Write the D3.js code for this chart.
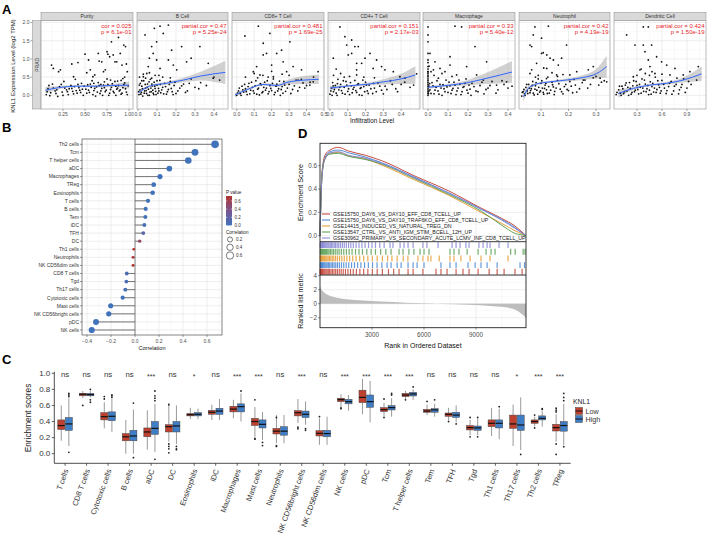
<!DOCTYPE html>
<html lang="en">
<head>
<meta charset="UTF-8">
<title>KNL1 immune infiltration panels</title>
<script src="https://d3js.org/d3.v7.min.js"></script>
<style>
  body { margin: 0; background: #fff; }
  svg { display: block; font-family: "Liberation Sans", Arial, sans-serif; }
</style>
</head>
<body>
<script>
// ---------- panel A : TIMER scatter ----------
const aNames = ["Purity", "B Cell", "CD8+ T Cell", "CD4+ T Cell", "Macrophage", "Neutrophil", "Dendritic Cell"];
const aCor = ["cor = 0.025", "partial.cor = 0.47", "partial.cor = 0.481", "partial.cor = 0.151",
              "partial.cor = 0.33", "partial.cor = 0.42", "partial.cor = 0.424"];
const aP = ["p = 6.1e-01", "p = 5.25e-24", "p = 1.69e-25", "p = 2.17e-03",
            "p = 5.40e-12", "p = 4.19e-19", "p = 1.50e-19"];

const purityPts = [[0.12,0.83],[0.14,0.74],[0.2,0.65],[0.22,0.7],[0.35,0.86],[0.37,0.51],[0.42,0.9],[0.5,1.13],[0.54,0.97],[0.56,0.7],[0.59,0.51],[0.61,0.56],[0.65,1.15],[0.66,0.94],[0.69,0.92],[0.71,0.65],[0.73,0.7],[0.75,1.2],[0.76,1.13],[0.78,1.06],[0.8,1.47],[0.82,1.11],[0.84,0.92],[0.86,0.92],[0.88,1.59],[0.9,1.15],[0.92,0.83],[0.94,1.38],[0.96,1.34],[0.97,0.86],[0.98,0.65],[0.52,0.62],
  [0.06,0.02],[0.08,0.18],[0.11,0.07],[0.13,0.31],[0.16,0.12],[0.19,-0.03],[0.21,0.24],[0.24,0.09],[0.26,0.38],[0.29,0.15],[0.31,0.02],[0.34,0.27],[0.36,0.11],[0.39,0.44],[0.41,0.06],[0.43,0.21],[0.46,0.33],[0.48,0.0],[0.51,0.17],[0.53,0.29],[0.55,0.08],[0.58,0.4],[0.6,0.13],[0.62,-0.02],[0.63,0.23],[0.65,0.35],[0.67,0.05],[0.69,0.19],[0.71,0.28],[0.73,0.1],[0.75,0.45],[0.77,0.0],[0.79,0.16],[0.81,0.32],[0.83,0.07],[0.85,0.25],[0.87,0.39],[0.89,0.12],[0.91,0.03],[0.93,0.21],[0.95,0.34],[0.97,0.09],[0.99,0.26],[0.57,0.22],[0.44,0.14],[0.72,0.37],[0.86,0.17],[0.93,0.46],[0.68,0.3],[0.35,0.19],
  [0.07,0.1],[0.09,0.27],[0.1,-0.01],[0.14,0.2],[0.17,0.05],[0.18,0.15],[0.23,0.3],[0.25,0.0],[0.27,0.2],[0.3,0.1],[0.32,0.18],[0.37,0.04],[0.38,0.24],[0.4,0.13],[0.42,0.3],[0.45,0.08],[0.47,0.17],[0.49,0.25],[0.52,0.06],[0.54,0.14],[0.56,0.31],[0.59,0.02],[0.61,0.19],[0.64,0.09],[0.66,0.27],[0.68,0.12],[0.7,0.0],[0.72,0.21],[0.74,0.14],[0.76,0.3],[0.78,0.06],[0.8,0.22],[0.82,0.11],[0.84,0.38],[0.85,0.0],[0.87,0.2],[0.88,0.27],[0.9,0.15],[0.92,0.06],[0.94,0.29],[0.96,0.18],[0.98,0.02],[0.6,0.33],[0.79,0.42],[0.91,0.41],[0.95,0.5]];
const bCellPts = [[0.037,1.66],[0.072,1.34],[0.08,1.15],[0.086,1.84],[0.098,0.97],[0.046,0.6],[0.054,0.79],[0.06,1.02],[0.116,1.9],[0.133,1.7],[0.16,0.97],[0.177,1.24],[0.186,0.83],[0.204,0.7],[0.23,1.34],[0.256,0.92],[0.28,1.02],[0.326,1.34],[0.37,0.88],[0.396,0.47],[0.43,0.42],[0.116,0.74],[0.028,0.51],[0.072,0.47],[0.16,1.93],[0.098,1.47],
  [0.005,0.02],[0.01,0.15],[0.012,0.33],[0.018,0.08],[0.02,0.25],[0.025,-0.02],[0.03,0.4],[0.035,0.12],[0.04,0.2],[0.045,0.05],[0.05,0.31],[0.055,0.17],[0.06,0.0],[0.065,0.44],[0.07,0.1],[0.075,0.26],[0.08,0.06],[0.085,0.36],[0.09,0.19],[0.095,0.02],[0.1,0.28],[0.11,0.12],[0.115,0.41],[0.12,0.07],[0.13,0.22],[0.14,0.33],[0.15,0.03],[0.16,0.16],[0.17,0.38],[0.18,0.1],[0.19,0.27],[0.2,0.05],[0.22,0.2],[0.24,0.31],[0.26,0.12],[0.28,0.45],[0.3,0.22],[0.33,0.35],[0.36,0.27],[0.4,0.5],[0.008,0.5],[0.028,0.58],[0.06,0.62],[0.09,0.55],[0.13,0.5],
  [0.003,0.1],[0.007,0.28],[0.015,0.03],[0.02,0.4],[0.023,0.18],[0.033,0.06],[0.038,0.3],[0.043,0.13],[0.048,0.22],[0.052,0.0],[0.058,0.37],[0.063,0.09],[0.068,0.2],[0.073,0.31],[0.078,0.14],[0.083,0.02],[0.088,0.25],[0.093,0.11],[0.1,0.4],[0.105,0.06],[0.108,0.19],[0.118,0.3],[0.125,0.15],[0.135,0.04],[0.145,0.24],[0.155,0.1],[0.165,0.3],[0.175,0.19],[0.185,0.02],[0.195,0.36],[0.21,0.12],[0.23,0.26],[0.25,0.08],[0.27,0.33],[0.32,0.18],[0.04,0.47],[0.11,0.55],[0.17,0.48]];
const cd8Pts = [[0.047,1.63],[0.124,1.9],[0.152,1.11],[0.171,1.15],[0.19,1.7],[0.2,0.83],[0.114,0.79],[0.133,0.56],[0.229,1.15],[0.266,0.92],[0.286,0.65],[0.305,1.47],[0.323,0.79],[0.352,0.42],[0.371,0.7],[0.419,0.28],[0.438,0.37],[0.152,1.43],[0.095,0.65],[0.21,0.51],[0.257,1.24],[0.466,0.65],
  [0.0,0.0],[0.01,0.12],[0.02,0.05],[0.03,0.25],[0.04,0.09],[0.05,0.18],[0.06,0.02],[0.07,0.33],[0.08,0.14],[0.09,0.22],[0.1,0.06],[0.11,0.4],[0.12,0.17],[0.13,0.01],[0.14,0.29],[0.15,0.1],[0.16,0.36],[0.17,0.2],[0.18,0.04],[0.19,0.27],[0.2,0.13],[0.21,0.45],[0.22,0.08],[0.23,0.31],[0.24,0.18],[0.25,0.0],[0.26,0.24],[0.27,0.38],[0.28,0.11],[0.3,0.3],[0.32,0.16],[0.34,0.42],[0.36,0.22],[0.38,0.34],[0.4,0.27],[0.44,0.5],[0.05,0.5],[0.1,0.6],[0.15,0.55],[0.2,0.66],[0.26,0.58],
  [0.005,0.06],[0.015,0.2],[0.025,0.0],[0.035,0.15],[0.045,0.3],[0.055,0.1],[0.065,0.24],[0.075,0.04],[0.085,0.36],[0.095,0.12],[0.105,0.26],[0.115,0.03],[0.125,0.2],[0.135,0.32],[0.145,0.07],[0.155,0.22],[0.165,0.14],[0.175,0.4],[0.185,0.1],[0.195,0.19],[0.205,0.33],[0.215,0.02],[0.225,0.25],[0.235,0.12],[0.245,0.39],[0.255,0.16],[0.265,0.06],[0.275,0.28],[0.29,0.2],[0.31,0.05],[0.33,0.26],[0.35,0.12],[0.37,0.44],[0.39,0.2],[0.42,0.36],[0.12,0.48],[0.18,0.5],[0.3,0.55]];
const cd4Pts = [[0.122,1.15],[0.159,1.34],[0.178,0.88],[0.225,1.15],[0.262,0.97],[0.29,0.79],[0.309,0.7],[0.356,0.65],[0.393,0.51],[0.421,0.47],[0.487,0.59],[0.243,0.74],[0.15,0.7],[0.197,1.02],[0.056,1.88],[0.084,1.61],[0.094,1.38],[0.103,1.11],[0.122,1.52],[0.14,1.34],[0.15,0.88],[0.019,1.02],
  [0.0,0.03],[0.01,0.2],[0.015,0.35],[0.02,0.1],[0.03,0.27],[0.04,0.0],[0.045,0.44],[0.05,0.15],[0.06,0.3],[0.07,0.06],[0.08,0.22],[0.09,0.38],[0.1,0.11],[0.11,0.02],[0.12,0.26],[0.13,0.17],[0.14,0.41],[0.15,0.08],[0.16,0.32],[0.17,0.19],[0.18,0.0],[0.19,0.24],[0.2,0.36],[0.21,0.12],[0.22,0.28],[0.24,0.05],[0.25,0.2],[0.27,0.34],[0.29,0.14],[0.31,0.25],[0.34,0.4],[0.37,0.18],[0.4,0.3],[0.45,0.22],[0.02,0.55],[0.06,0.6],[0.11,0.52],[0.035,0.72],[0.19,0.5],
  [0.005,0.12],[0.012,0.0],[0.018,0.26],[0.025,0.16],[0.035,0.06],[0.042,0.32],[0.055,0.22],[0.065,0.13],[0.075,0.4],[0.085,0.03],[0.095,0.28],[0.105,0.18],[0.115,0.35],[0.125,0.07],[0.135,0.22],[0.145,0.13],[0.155,0.3],[0.165,0.01],[0.175,0.21],[0.185,0.42],[0.195,0.1],[0.205,0.28],[0.215,0.05],[0.23,0.18],[0.245,0.33],[0.26,0.1],[0.28,0.25],[0.3,0.04],[0.32,0.16],[0.35,0.3],[0.38,0.1],[0.42,0.36],[0.47,0.28],[0.08,0.5],[0.15,0.56],[0.25,0.48]];
const macroPts = [[0.0,1.88],[0.0,1.66],[0.0,1.47],[0.0,1.15],[0.0,0.97],[0.0,0.79],[0.0,0.65],[0.0,0.51],[0.135,1.9],[0.168,1.88],[0.235,1.34],[0.293,0.92],[0.11,0.83],[0.06,0.74],[0.035,0.92],[0.085,0.65],[0.143,0.56],[0.193,0.79],[0.243,0.56],[0.277,0.42],[0.343,0.28],[0.393,0.37],[0.01,1.15],[0.027,0.7],[0.052,0.47],[0.11,1.06],
  [0.0,0.0],[0.0,0.1],[0.0,0.2],[0.0,0.3],[0.0,0.4],[0.002,0.05],[0.004,0.25],[0.01,0.15],[0.02,0.35],[0.03,0.04],[0.04,0.22],[0.05,0.12],[0.06,0.3],[0.07,0.0],[0.08,0.18],[0.09,0.42],[0.1,0.08],[0.11,0.26],[0.12,0.14],[0.13,0.36],[0.14,0.02],[0.15,0.2],[0.16,0.31],[0.17,0.1],[0.18,0.24],[0.19,0.45],[0.2,0.06],[0.21,0.17],[0.22,0.33],[0.24,0.12],[0.26,0.27],[0.28,0.04],[0.3,0.2],[0.32,0.38],[0.35,0.15],[0.38,0.3],[0.42,0.25],[0.0,0.55],[0.0,0.65],[0.005,0.8],[0.03,0.55],[0.07,0.6],[0.12,0.52],
  [0.0,0.05],[0.0,0.15],[0.0,0.25],[0.0,0.35],[0.0,0.45],[0.005,0.12],[0.008,0.32],[0.015,0.05],[0.025,0.26],[0.035,0.14],[0.045,0.4],[0.055,0.03],[0.065,0.2],[0.075,0.29],[0.085,0.1],[0.095,0.23],[0.105,0.36],[0.115,0.05],[0.125,0.19],[0.135,0.28],[0.145,0.12],[0.155,0.42],[0.165,0.02],[0.175,0.22],[0.185,0.33],[0.195,0.14],[0.205,0.28],[0.215,0.0],[0.23,0.24],[0.25,0.1],[0.27,0.36],[0.29,0.16],[0.31,0.27],[0.34,0.06],[0.37,0.4],[0.4,0.2],[0.0,0.6],[0.0,0.72],[0.0,0.9],[0.015,0.65]];
const neutroPts = [[0.078,1.88],[0.127,1.9],[0.072,1.66],[0.102,1.57],[0.06,1.38],[0.066,1.34],[0.102,1.15],[0.108,1.17],[0.121,1.11],[0.133,1.02],[0.145,0.97],[0.163,0.83],[0.175,1.02],[0.193,1.38],[0.23,0.65],[0.254,0.42],[0.272,0.7],[0.29,0.79],[0.315,0.47],[0.339,0.37],[0.084,0.88],[0.121,0.74],[0.157,0.56],[0.205,0.56],[0.066,0.7],
  [0.03,-0.02],[0.035,0.1],[0.04,0.04],[0.045,0.22],[0.05,0.12],[0.055,0.3],[0.06,0.07],[0.065,0.18],[0.07,0.38],[0.075,0.01],[0.08,0.26],[0.085,0.14],[0.09,0.45],[0.095,0.09],[0.1,0.33],[0.105,0.2],[0.11,0.03],[0.115,0.28],[0.12,0.15],[0.125,0.5],[0.13,0.06],[0.14,0.36],[0.145,0.23],[0.15,0.11],[0.16,0.41],[0.17,0.17],[0.18,0.04],[0.19,0.3],[0.2,0.13],[0.21,0.25],[0.22,0.44],[0.23,0.09],[0.25,0.35],[0.27,0.2],[0.29,0.48],[0.31,0.28],[0.33,0.4],[0.06,0.6],[0.09,0.55],[0.14,0.62],[0.11,0.75],[0.18,0.57],
  [0.032,0.08],[0.038,0.16],[0.042,0.0],[0.048,0.3],[0.052,0.05],[0.058,0.2],[0.062,0.13],[0.068,0.27],[0.072,0.06],[0.078,0.17],[0.082,0.35],[0.088,0.03],[0.092,0.22],[0.098,0.12],[0.103,0.4],[0.108,0.08],[0.113,0.19],[0.118,0.33],[0.123,0.05],[0.128,0.24],[0.135,0.14],[0.142,0.29],[0.148,0.02],[0.155,0.2],[0.165,0.32],[0.175,0.1],[0.185,0.24],[0.195,0.16],[0.205,0.38],[0.215,0.07],[0.225,0.28],[0.24,0.18],[0.26,0.42],[0.28,0.3],[0.3,0.52],[0.32,0.36],[0.08,0.5],[0.12,0.46],[0.16,0.52]];
const dcPts = [[0.176,1.66],[0.376,1.88],[0.436,1.88],[0.276,1.38],[0.376,1.38],[0.396,1.2],[0.476,1.38],[0.536,1.06],[0.436,0.97],[0.456,0.79],[0.596,0.92],[0.657,0.83],[0.756,0.74],[0.856,0.56],[0.936,0.65],[1.036,0.79],[0.336,0.7],[0.516,0.6],[0.256,0.51],[0.696,0.56],[1.017,0.42],
  [0.05,0.02],[0.08,0.15],[0.1,0.06],[0.12,0.25],[0.15,0.1],[0.17,0.34],[0.2,0.0],[0.22,0.19],[0.24,0.08],[0.26,0.4],[0.28,0.14],[0.3,0.27],[0.32,0.04],[0.34,0.22],[0.36,0.45],[0.38,0.11],[0.4,0.31],[0.42,0.18],[0.44,0.02],[0.46,0.37],[0.48,0.24],[0.5,0.09],[0.52,0.5],[0.54,0.16],[0.56,0.29],[0.58,0.06],[0.6,0.41],[0.63,0.2],[0.66,0.13],[0.69,0.33],[0.72,0.03],[0.75,0.25],[0.78,0.47],[0.81,0.15],[0.84,0.3],[0.88,0.08],[0.92,0.38],[0.3,0.55],[0.4,0.6],[0.48,0.65],[0.35,0.72],[0.6,0.58],
  [0.06,0.08],[0.09,0.25],[0.11,0.0],[0.13,0.18],[0.14,0.05],[0.16,0.28],[0.18,0.12],[0.19,0.22],[0.21,0.35],[0.23,0.03],[0.25,0.26],[0.27,0.1],[0.29,0.38],[0.31,0.16],[0.33,0.3],[0.35,0.06],[0.37,0.2],[0.39,0.42],[0.41,0.1],[0.43,0.27],[0.45,0.14],[0.47,0.03],[0.49,0.33],[0.51,0.2],[0.53,0.08],[0.55,0.4],[0.57,0.22],[0.59,0.12],[0.62,0.3],[0.65,0.05],[0.68,0.24],[0.71,0.38],[0.74,0.12],[0.77,0.3],[0.8,0.04],[0.83,0.22],[0.86,0.45],[0.9,0.2],[0.95,0.3],[0.45,0.55]];

// loess fit and confidence half-width
const aFitX = [[0.05,0.2,0.4,0.6,0.8,1.0],[0.005,0.06,0.15,0.24,0.33,0.46],[-0.01,0.076,0.15,0.23,0.3,0.47],
               [0.0,0.07,0.13,0.22,0.3,0.4,0.48],[0.0,0.11,0.19,0.28,0.42],
               [0.036,0.054,0.084,0.133,0.193,0.254,0.303,0.339],[0.076,0.256,0.456,0.657,0.856,1.077]];
const aFit = [[0.14,0.21,0.25,0.25,0.27,0.28],[0.08,0.25,0.33,0.42,0.53,0.63],[0.01,0.19,0.3,0.27,0.37,0.44],
              [0.2,0.24,0.27,0.31,0.37,0.45,0.56],[0.22,0.28,0.34,0.45,0.64],
              [-0.04,0.19,0.31,0.37,0.42,0.49,0.6,0.79],[0.05,0.19,0.28,0.33,0.42,0.59]];
const aSe = [[0.09,0.04,0.03,0.03,0.04,0.09],[0.05,0.03,0.04,0.06,0.12,0.32],[0.06,0.03,0.03,0.04,0.07,0.13],
             [0.06,0.03,0.03,0.04,0.07,0.14,0.24],[0.04,0.04,0.07,0.14,0.3],
             [0.15,0.06,0.03,0.03,0.04,0.07,0.14,0.3],[0.12,0.04,0.03,0.04,0.07,0.2]];

// ---------- panel B : lollipop ----------
const bCats = ["Th2 cells","Tcm","T helper cells","aDC","Macrophages","TReg","Eosinophils","T cells","B cells","Tem","iDC","TFH","DC",
               "Th1 cells","Neutrophils","NK CD56dim cells","CD8 T cells","Tgd","Th17 cells","Cytotoxic cells","Mast cells","NK CD56bright cells","pDC","NK cells"];
const bCor = [0.667,0.50,0.444,0.286,0.208,0.156,0.147,0.108,0.089,0.086,0.078,0.069,0.039,
              -0.011,-0.017,-0.017,-0.069,-0.072,-0.081,-0.103,-0.203,-0.219,-0.325,-0.361];
const bPval = [0,0,0,0,0,0,0,0,0,0.01,0.04,0.16,0.52,0.75,0.7,0.72,0.08,0.06,0.03,0.01,0,0,0,0];

// ---------- panel C : boxplots ----------
const cCats = ["T cells","CD8 T cells","Cytotoxic cells","B cells","aDC","DC","Eosinophils","iDC","Macrophages","Mast cells","Neutrophils",
               "NK CD56bright cells","NK CD56dim cells","NK cells","pDC","Tcm","T helper cells","Tem","TFH","Tgd","Th1 cells","Th17 cells","Th2 cells","TReg"];
const cSig = ["ns","ns","ns","ns","***","ns","*","ns","***","***","ns","***","ns","***","***","***","***","ns","ns","ns","ns","*","***","***"];
// [lower whisker, q1, median, q3, upper whisker]
const cLow = [[0.16,0.30,0.35,0.42,0.60],[0.69,0.72,0.74,0.75,0.78],[0.315,0.42,0.46,0.51,0.64],[0.0,0.16,0.21,0.25,0.42],
  [0.05,0.21,0.27,0.32,0.54],[0.15,0.27,0.336,0.36,0.63],[0.43,0.47,0.485,0.50,0.57],[0.42,0.49,0.515,0.54,0.61],
  [0.44,0.52,0.555,0.59,0.67],[0.21,0.35,0.40,0.44,0.58],[0.13,0.245,0.28,0.315,0.48],[0.38,0.47,0.51,0.535,0.68],
  [0.11,0.22,0.253,0.286,0.44],[0.58,0.647,0.672,0.69,0.74],[0.49,0.635,0.70,0.79,0.93],[0.47,0.523,0.548,0.573,0.63],
  [0.68,0.71,0.73,0.75,0.78],[0.48,0.515,0.53,0.552,0.61],[0.42,0.465,0.49,0.506,0.57],[0.23,0.295,0.324,0.35,0.42],
  [0.22,0.336,0.378,0.42,0.57],[0.095,0.315,0.37,0.48,0.61],[0.34,0.378,0.40,0.42,0.46],[0.15,0.282,0.324,0.365,0.49]];
const cLowOut = [[],[0.60],[0.68,0.71],[],[],[0.61,0.12,0.09,0.06,0.01],[],[],[],[0.67,0.19,0.18],[0.10,0.09,0.45],[0.33,0.31],
  [0.46],[0.56,0.57],[],[0.68,0.45],[0.67],[0.65],[0.40],[0.45,0.21],[],[],[0.48,0.32],[0.52,0.54,0.565,0.12,-0.01]];
const cHigh = [[0.095,0.29,0.37,0.45,0.69],[0.70,0.72,0.735,0.75,0.78],[0.27,0.41,0.465,0.52,0.68],[0.0,0.16,0.22,0.29,0.55],
  [0.02,0.24,0.315,0.40,0.62],[0.12,0.27,0.345,0.40,0.60],[0.43,0.47,0.49,0.51,0.56],[0.42,0.49,0.53,0.565,0.68],
  [0.40,0.52,0.585,0.62,0.75],[0.17,0.32,0.365,0.42,0.52],[0.13,0.23,0.28,0.335,0.48],[0.36,0.45,0.49,0.53,0.65],
  [0.11,0.21,0.25,0.29,0.46],[0.535,0.62,0.647,0.676,0.73],[0.39,0.577,0.647,0.73,0.905],[0.46,0.544,0.573,0.598,0.69],
  [0.67,0.718,0.743,0.763,0.80],[0.46,0.515,0.544,0.56,0.62],[0.39,0.452,0.48,0.515,0.60],[0.23,0.29,0.32,0.344,0.43],
  [0.18,0.32,0.378,0.42,0.56],[0.046,0.29,0.357,0.48,0.70],[0.336,0.42,0.44,0.47,0.53],[0.11,0.28,0.35,0.40,0.62]];
const cHighOut = [[0.71,0.73,0.75,0.017],[0.80,0.64,0.67],[0.70,0.72,0.73],[0.63,-0.05],[0.66,0.69,0.72,0.78,-0.07],[0.09,0.06,0.05],
  [],[],[0.78],[0.14,0.10],[],[0.31,0.29],[],[],[],[0.73,0.75],[0.83],[0.67],[0.37],[0.45,0.21],[0.585],[-0.01],[0.56,0.55],[0.66,0.70,0.75,0.087]];

// ---------- panel D : GSEA ----------
const gsNames = ["GSE15750_DAY6_VS_DAY10_EFF_CD8_TCELL_UP","GSE15750_DAY6_VS_DAY10_TRAF6KO_EFF_CD8_TCELL_UP",
                 "GSE14415_INDUCED_VS_NATURAL_TREG_DN","GSE13547_CTRL_VS_ANTI_IGM_STIM_BCELL_12H_UP",
                 "GSE30962_PRIMARY_VS_SECONDARY_ACUTE_LCMV_INF_CD8_TCELL_UP"];
const gsColors = ["#C0392B","#3F7FD0","#E39325","#4E9A47","#7F80D2"];
const esRank = [0,50,120,290,580,1060,1640,2600,3560,5480,7400,9330,10480,11250,11830,11885];
const esRed    = [0,0.30,0.55,0.69,0.734,0.757,0.726,0.69,0.643,0.511,0.386,0.234,0.149,0.083,0.008,0];
const esBlue   = [0,0.28,0.53,0.67,0.72,0.734,0.711,0.675,0.626,0.50,0.369,0.225,0.14,0.07,0.005,0];
const esOrange = [0,0.27,0.52,0.66,0.705,0.715,0.685,0.66,0.606,0.477,0.349,0.197,0.106,0.043,0.004,0];
const esGreen  = [0,0.28,0.53,0.66,0.70,0.706,0.68,0.654,0.614,0.488,0.357,0.208,0.091,0.02,0.002,0];
const esPurple = [0,0.28,0.52,0.66,0.71,0.72,0.69,0.665,0.62,0.494,0.369,0.226,0.134,0.063,0.006,0];
const hitsRed = [5,30,60,95,135,180,230,285,345,410,480,555,635,720,810,905,1005,1110,1220,1340,1470,1610,1760,1920,2100,2300,2520,2760,3020,3300,3600,3950,4250,4560,5080,5370,5940,6690,6980,7330,7850,8250,8600,9120,9760,10220,10620,11250,11660];
const hitsBlue = [10,35,65,100,140,185,235,290,350,415,485,560,640,725,815,910,1010,1120,1240,1370,1510,1660,1820,1990,2170,2360,2570,2790,3030,3290,3570,3870,4100,4450,4680,5080,5370,5600,6000,6980,7500,7850,8540,8950,9290,9640,10220,11540,11800];
const hitsOrange = [15,45,85,125,170,220,275,335,400,470,545,625,710,800,900,1010,1130,1260,1400,1550,1710,1890,2080,2290,2520,2760,3020,3300,3600,3900,4150,4450,4800,5070,5650,5940,6230,6400,6880,7500,7730,8130,8660,9290,9810,10850];
const hitsGreen = [20,60,100,140,200,260,320,380,450,520,600,690,780,880,990,1100,1230,1370,1520,1680,1850,2050,2250,2450,2700,2950,3200,3500,3800,4100,4560,4790,5130,5420,5770,6000,6290,7500,7730,8020,8490,9120,9580,9870,10100,11000,11260,11720,11830];
const hitsPurple = [10,40,70,110,150,190,240,290,340,400,460,520,590,660,740,820,900,990,1080,1180,1290,1400,1520,1650,1780,1920,2080,2250,2420,2600,2800,3000,3200,3450,3700,4040,4210,4620,4850,5080,5370,5940,6170,6810,7620,7850,8080,8420,8600,9170,9410,9640,9810,10330,10850];
const rlRank = [0,60,150,300,500,900,1500,2500,3500,5000,6000,7000,8500,10000,10800,11300,11600,11885];
const rlVal = [2.5,2.1,1.8,1.5,1.2,0.9,0.65,0.45,0.3,0.15,0.05,-0.05,-0.15,-0.35,-0.55,-0.9,-1.4,-2.0];

// ====================================================================
const svg = d3.select("body").append("svg").attr("width", 708).attr("height", 535);

function txt(g, x, y, s, size, o = {}) {
  const t = g.append("text").attr("x", x).attr("y", y).text(s)
    .attr("font-size", size).attr("fill", o.fill || "#222");
  if (o.anchor) t.attr("text-anchor", o.anchor);
  if (o.weight) t.attr("font-weight", o.weight);
  if (o.rotate != null) t.attr("transform", `rotate(${o.rotate},${x},${y})`);
  return t;
}
function hline(g, x1, x2, y, c, w) {
  g.append("line").attr("x1", x1).attr("x2", x2).attr("y1", y).attr("y2", y).attr("stroke", c).attr("stroke-width", w);
}
function vline(g, x, y1, y2, c, w) {
  g.append("line").attr("x1", x).attr("x2", x).attr("y1", y1).attr("y2", y2).attr("stroke", c).attr("stroke-width", w);
}

// panel letters
txt(svg, 2, 13.5, "A", 13, {weight: "bold", fill: "#000"});
txt(svg, 2, 132, "B", 13, {weight: "bold", fill: "#000"});
txt(svg, 2, 364, "C", 13, {weight: "bold", fill: "#000"});
txt(svg, 298, 138, "D", 13, {weight: "bold", fill: "#000"});

// ---------------- A ----------------
(function () {
  const top = 20.7, bot = 109, stripTop = 12.3;
  const y = d3.scaleLinear().domain([-0.376, 2.05]).range([bot, top]);
  const pts = [purityPts, bCellPts, cd8Pts, cd4Pts, macroPts, neutroPts, dcPts];
  const layout = [
    {x0: 41, x1: 133, dom: [0, 1.045], step: 0.25, ticks: [0.25, 0.5, 0.75, 1], fmt: ".2f"},
    {x0: 137, x1: 228, dom: [-0.0053, 0.474], step: 0.1, ticks: [0, 0.1, 0.2, 0.3, 0.4], fmt: ".1f"},
    {x0: 232, x1: 324, dom: [-0.027, 0.5], step: 0.1, ticks: [0, 0.1, 0.2, 0.3, 0.4, 0.5], fmt: ".1f"},
    {x0: 328, x1: 420, dom: [-0.011, 0.506], step: 0.1, ticks: [0, 0.1, 0.2, 0.3, 0.4], fmt: ".1f"},
    {x0: 423, x1: 515, dom: [-0.025, 0.435], step: 0.1, ticks: [0, 0.1, 0.2, 0.3, 0.4], fmt: ".1f"},
    {x0: 519, x1: 610, dom: [0.02, 0.351], step: 0.1, ticks: [0.1, 0.2, 0.3], fmt: ".1f"},
    {x0: 614, x1: 706, dom: [0.024, 1.129], step: 0.3, ticks: [0.3, 0.6, 0.9], fmt: ".1f"}
  ];
  const g0 = svg.append("g");
  // left strip + y axis
  g0.append("rect").attr("x", 32.5).attr("y", top).attr("width", 8.5).attr("height", bot - top)
    .attr("fill", "#D9D9D9").attr("stroke", "#8c8c8c").attr("stroke-width", 0.5);
  txt(g0, 38.6, (top + bot) / 2, "PRAD", 5, {anchor: "middle", rotate: -90, fill: "#333"});
  [0, 0.5, 1, 1.5, 2].forEach(v => {
    hline(g0, 30.3, 32.3, y(v), "#555", 0.5);
    txt(g0, 29.5, y(v) + 1.8, d3.format(".1f")(v), 5, {anchor: "end", fill: "#4d4d4d"});
  });
  txt(g0, 14.5, 66, "KNL1 Expression Level (log2 TPM)", 6, {anchor: "middle", rotate: -90, fill: "#111"});
  txt(g0, 372, 122.5, "Infiltration Level", 6.3, {anchor: "middle", fill: "#111"});

  aNames.forEach((name, i) => {
    const L = layout[i];
    const x = d3.scaleLinear().domain(L.dom).range([L.x0, L.x1]);
    const g = svg.append("g");
    const cid = "clipA" + i;
    g.append("clipPath").attr("id", cid).append("rect")
      .attr("x", L.x0).attr("y", top).attr("width", L.x1 - L.x0).attr("height", bot - top);
    g.append("rect").attr("x", L.x0).attr("y", top).attr("width", L.x1 - L.x0).attr("height", bot - top).attr("fill", "#fff");
    const half = L.step / 2;
    for (let v = Math.ceil(L.dom[0] / half - 1e-9) * half; v <= L.dom[1] + 1e-9; v += half) {
      const major = Math.abs(v / L.step - Math.round(v / L.step)) < 1e-6;
      vline(g, x(v), top, bot, major ? "#E2E2E2" : "#F0F0F0", major ? 0.6 : 0.4);
    }
    [-0.25, 0, 0.25, 0.5, 0.75, 1, 1.25, 1.5, 1.75, 2].forEach(v => {
      const major = Math.abs(v * 2 - Math.round(v * 2)) < 1e-6;
      hline(g, L.x0, L.x1, y(v), major ? "#E2E2E2" : "#F0F0F0", major ? 0.6 : 0.4);
    });
    const inner = g.append("g").attr("clip-path", `url(#${cid})`);
    const fit = aFitX[i].map((fx, k) => ({x: fx, f: aFit[i][k], s: aSe[i][k]}));
    inner.append("path").datum(fit)
      .attr("d", d3.area().x(d => x(d.x)).y0(d => y(d.f - d.s)).y1(d => y(d.f + d.s)).curve(d3.curveMonotoneX))
      .attr("fill", "#999").attr("fill-opacity", 0.45);
    inner.selectAll("circle").data(pts[i]).join("circle")
      .attr("cx", d => x(d[0])).attr("cy", d => y(d[1])).attr("r", 0.9).attr("fill", "#111");
    inner.append("path").datum(fit)
      .attr("d", d3.line().x(d => x(d.x)).y(d => y(d.f)).curve(d3.curveMonotoneX))
      .attr("fill", "none").attr("stroke", "#3366FF").attr("stroke-width", 1);
    g.append("rect").attr("x", L.x0).attr("y", top).attr("width", L.x1 - L.x0).attr("height", bot - top)
      .attr("fill", "none").attr("stroke", "#8c8c8c").attr("stroke-width", 0.6);
    // strip
    g.append("rect").attr("x", L.x0).attr("y", stripTop).attr("width", L.x1 - L.x0).attr("height", top - stripTop)
      .attr("fill", "#D9D9D9").attr("stroke", "#8c8c8c").attr("stroke-width", 0.5);
    txt(g, (L.x0 + L.x1) / 2, 18.4, name, 5, {anchor: "middle", fill: "#333"});
    // annotation
    txt(g, L.x1 - 1.5, 27.5, aCor[i], 6, {anchor: "end", fill: "#E8262B"});
    txt(g, L.x1 - 1.5, 34, aP[i], 6, {anchor: "end", fill: "#E8262B"});
    // x ticks
    L.ticks.forEach(v => {
      vline(g, x(v), bot, bot + 2, "#555", 0.5);
      txt(g, x(v), bot + 7, d3.format(L.fmt)(v), 5, {anchor: "middle", fill: "#4d4d4d"});
    });
  });
})();

// ---------------- B ----------------
(function () {
  const g = svg.append("g");
  const x0 = 82, x1 = 222, top = 139, bot = 335;
  const x = d3.scaleLinear().domain([-0.442, 0.725]).range([x0, x1]);
  const y = d3.scalePoint().domain(bCats).range([144.3, 330]);
  const col = d3.scaleLinear().domain([0, 0.36, 0.72]).range(["#4173BB", "#7A5591", "#B2332E"]).clamp(true);
  const r = d3.scaleSqrt().domain([0, 0.7]).range([1.0, 3.9]);
  g.append("rect").attr("x", x0).attr("y", top).attr("width", x1 - x0).attr("height", bot - top).attr("fill", "#fff");
  d3.range(-0.4, 0.71, 0.1).forEach(v => {
    const major = Math.abs(v * 5 - Math.round(v * 5)) < 1e-6;
    vline(g, x(v), top, bot, major ? "#E2E2E2" : "#F0F0F0", major ? 0.6 : 0.4);
  });
  bCats.forEach(c => hline(g, x0, x1, y(c), "#E2E2E2", 0.6));
  vline(g, x(0), top, bot, "#555", 0.7);
  bCats.forEach((c, i) => {
    hline(g, x(0), x(bCor[i]), y(c), "#555", 0.8);
  });
  g.selectAll("circle.dot").data(bCats).join("circle").attr("class", "dot")
    .attr("cx", (c, i) => x(bCor[i])).attr("cy", c => y(c))
    .attr("r", (c, i) => r(Math.abs(bCor[i]))).attr("fill", (c, i) => col(bPval[i]));
  g.append("rect").attr("x", x0).attr("y", top).attr("width", x1 - x0).attr("height", bot - top)
    .attr("fill", "none").attr("stroke", "#333").attr("stroke-width", 0.6);
  bCats.forEach(c => {
    hline(g, x0 - 2, x0, y(c), "#333", 0.5);
    txt(g, x0 - 3, y(c) + 1.8, c, 5, {anchor: "end", fill: "#333"});
  });
  [-0.4, -0.2, 0, 0.2, 0.4, 0.6].forEach(v => {
    vline(g, x(v), bot, bot + 2, "#333", 0.5);
    txt(g, x(v), bot + 7.5, d3.format(".1f")(v).replace("-", "\u2212"), 5, {anchor: "middle", fill: "#4d4d4d"});
  });
  txt(g, (x0 + x1) / 2, 350, "Correlation", 5.5, {anchor: "middle", fill: "#111"});

  // legends
  txt(g, 226, 193.5, "P value", 4.6, {fill: "#222"});
  const grad = svg.append("defs").append("linearGradient").attr("id", "pgrad")
    .attr("x1", 0).attr("x2", 0).attr("y1", 1).attr("y2", 0);
  [0, 0.5, 1].forEach(t => grad.append("stop").attr("offset", t).attr("stop-color", col(t * 0.72)));
  const p = d3.scaleLinear().domain([0, 0.72]).range([225.5, 196]);
  g.append("rect").attr("x", 226).attr("y", 196).attr("width", 6).attr("height", 29.5).attr("fill", "url(#pgrad)");
  [0, 0.2, 0.4, 0.6].forEach(v => {
    hline(g, 226, 227.3, p(v), "#fff", 0.5);
    hline(g, 230.7, 232, p(v), "#fff", 0.5);
    txt(g, 234.5, p(v) + 1.6, d3.format(".1f")(v), 4.5, {fill: "#333"});
  });
  txt(g, 226, 234, "Correlation", 4.6, {fill: "#222"});
  [[0.2, 239.5], [0.4, 247.3], [0.6, 255.5]].forEach(([v, cy]) => {
    g.append("circle").attr("cx", 230).attr("cy", cy).attr("r", r(v))
      .attr("fill", "none").attr("stroke", "#222").attr("stroke-width", 0.6);
    txt(g, 236, cy + 1.6, d3.format(".1f")(v), 4.5, {fill: "#333"});
  });
})();

// ---------------- D ----------------
(function () {
  const g = svg.append("g");
  const x0 = 320, x1 = 526, esTop = 143.3, esBot = 241.7, hitBot = 275, rlBot = 327.7;
  const x = d3.scaleLinear().domain([0, 11885]).range([x0, x1]);
  const yEs = d3.scaleLinear().domain([-0.051, 0.792]).range([esBot, esTop]);
  const yRl = d3.scaleLinear().domain([-3.43, 4.1]).range([rlBot, hitBot]);
  g.append("rect").attr("x", x0).attr("y", esTop).attr("width", x1 - x0).attr("height", rlBot - esTop).attr("fill", "#fff");
  d3.range(1500, 11885, 1500).forEach(v => {
    const major = v % 3000 === 0;
    vline(g, x(v), esTop, esBot, major ? "#E2E2E2" : "#F0F0F0", major ? 0.6 : 0.4);
    vline(g, x(v), hitBot, rlBot, major ? "#E2E2E2" : "#F0F0F0", major ? 0.6 : 0.4);
  });
  [0, 0.1, 0.2, 0.3, 0.4, 0.5, 0.6, 0.7].forEach(v => {
    const major = Math.abs(v * 5 - Math.round(v * 5)) < 1e-6;
    hline(g, x0, x1, yEs(v), major ? "#E2E2E2" : "#F0F0F0", major ? 0.6 : 0.4);
  });
  [-3, -2, -1, 0, 1, 2, 3, 4].forEach(v => {
    const major = v % 2 === 0;
    hline(g, x0, x1, yRl(v), major ? "#E2E2E2" : "#F0F0F0", major ? 0.6 : 0.4);
  });
  // ranked list metric
  const rl = rlRank.map((rk, i) => ({r: rk, v: rlVal[i]}));
  g.append("path").datum(rl)
    .attr("d", d3.area().x(d => x(d.r)).y0(yRl(0)).y1(d => yRl(d.v)).curve(d3.curveMonotoneX))
    .attr("fill", "#BDBDBD");
  // running ES curves
  const esSets = [esRed, esBlue, esOrange, esGreen, esPurple];
  esSets.forEach((s, k) => {
    g.append("path").datum(esRank.map((rk, i) => ({r: rk, v: s[i]})))
      .attr("d", d3.line().x(d => x(d.r)).y(d => yEs(d.v)).curve(d3.curveMonotoneX))
      .attr("fill", "none").attr("stroke", gsColors[k]).attr("stroke-width", 0.9);
  });
  // legend
  gsNames.forEach((n, k) => {
    const ly = 214 + k * 6;
    hline(g, x0 + 2, x0 + 10, ly, gsColors[k], 1);
    txt(g, x0 + 13, ly + 1.9, n, 5.3, {fill: "#222"});
  });
  // hits
  const hitSets = [hitsPurple, hitsGreen, hitsOrange, hitsBlue, hitsRed];
  const hitCols = [gsColors[4], gsColors[3], gsColors[2], gsColors[1], gsColors[0]];
  const rowH = (hitBot - esBot) / 5;
  hitSets.forEach((hs, k) => {
    const ya = esBot + k * rowH + 0.5, yb = esBot + (k + 1) * rowH - 0.3;
    g.selectAll(null).data(hs).join("line")
      .attr("x1", d => x(d)).attr("x2", d => x(d)).attr("y1", ya).attr("y2", yb)
      .attr("stroke", hitCols[k]).attr("stroke-width", 1.2).attr("stroke-opacity", 0.8);
  });
  // borders
  g.append("rect").attr("x", x0).attr("y", esTop).attr("width", x1 - x0).attr("height", rlBot - esTop)
    .attr("fill", "none").attr("stroke", "#222").attr("stroke-width", 0.9);
  hline(g, x0, x1, esBot, "#222", 0.9);
  hline(g, x0, x1, hitBot, "#222", 0.9);
  // axes
  [0, 0.2, 0.4, 0.6].forEach(v => {
    hline(g, x0 - 2, x0, yEs(v), "#333", 0.5);
    txt(g, x0 - 3, yEs(v) + 2.2, d3.format(".1f")(v), 6.3, {anchor: "end", fill: "#4d4d4d"});
  });
  [4, 2, 0, -2].forEach(v => {
    hline(g, x0 - 2, x0, yRl(v), "#333", 0.5);
    txt(g, x0 - 3, yRl(v) + 2.2, String(v).replace("-", "\u2212"), 6.3, {anchor: "end", fill: "#4d4d4d"});
  });
  [3000, 6000, 9000].forEach(v => {
    vline(g, x(v), rlBot, rlBot + 2, "#333", 0.5);
    txt(g, x(v), rlBot + 9.5, String(v), 6.3, {anchor: "middle", fill: "#4d4d4d"});
  });
  txt(g, 302.5, 192.5, "Enrichment Score", 7.2, {anchor: "middle", rotate: -90, fill: "#111"});
  txt(g, 302.5, 301, "Ranked list metric", 7, {anchor: "middle", rotate: -90, fill: "#111"});
  txt(g, (x0 + x1) / 2, 347.5, "Rank in Ordered Dataset", 7, {anchor: "middle", fill: "#111"});
})();

// ---------------- C ----------------
(function () {
  const g = svg.append("g");
  const x0 = 54.3, x1 = 570.7, bot = 463.3, top = 371.7;
  const x = d3.scaleBand().domain(cCats).range([x0, x1]);
  const y = d3.scaleLinear().domain([-0.12, 1.02]).range([bot, top]);
  const fills = ["#C0402F", "#3F7DC6"];
  const bw = 7, off = 3.8;
  vline(g, x0, top, bot, "#222", 0.8);
  hline(g, x0, x1, bot, "#222", 0.8);
  [0, 0.2, 0.4, 0.6, 0.8, 1.0].forEach(v => {
    hline(g, x0 - 2.5, x0, y(v), "#222", 0.7);
    txt(g, x0 - 4, y(v) + 2.8, d3.format(".1f")(v), 8, {anchor: "end", fill: "#333"});
  });
  txt(g, 31, 418, "Enrichment scores", 8.3, {anchor: "middle", rotate: -90, fill: "#222"});
  cCats.forEach((c, i) => {
    const cx = x(c) + x.bandwidth() / 2;
    [[cLow[i], cLowOut[i]], [cHigh[i], cHighOut[i]]].forEach(([s, outs], k) => {
      const bx = cx + (k === 0 ? -off : off);
      vline(g, bx, y(s[0]), y(s[1]), "#555", 0.6);
      vline(g, bx, y(s[3]), y(s[4]), "#555", 0.6);
      g.append("rect").attr("x", bx - bw / 2).attr("y", y(s[3])).attr("width", bw)
        .attr("height", Math.max(0.8, y(s[1]) - y(s[3])))
        .attr("fill", fills[k]).attr("stroke", "#444").attr("stroke-width", 0.5);
      hline(g, bx - bw / 2, bx + bw / 2, y(s[2]), "#111", 1.2);
      outs.forEach(o => g.append("circle").attr("cx", bx).attr("cy", y(o)).attr("r", 0.9).attr("fill", "#222"));
    });
    vline(g, cx, bot, bot + 2.5, "#222", 0.7);
    txt(g, cx + 3.5, bot + 7, c, 7.5, {anchor: "end", rotate: -70, fill: "#333"});
    const star = cSig[i] !== "ns";
    txt(g, cx, star ? 379 : 377, cSig[i], star ? 7 : 7.8, {anchor: "middle", fill: "#333"});
  });
  // legend
  txt(g, 573, 404, "KNL1", 6.8, {fill: "#222"});
  ["Low", "High"].forEach((n, k) => {
    const ky = 407.5 + k * 8;
    g.append("rect").attr("x", 575.5).attr("y", ky).attr("width", 7).attr("height", 7)
      .attr("fill", fills[k]).attr("stroke", "#444").attr("stroke-width", 0.5);
    hline(g, 575.5, 582.5, ky + 3.5, "#111", 1);
    txt(g, 585.5, ky + 6, n, 7.2, {fill: "#333"});
  });
})();
</script>
</body>
</html>
